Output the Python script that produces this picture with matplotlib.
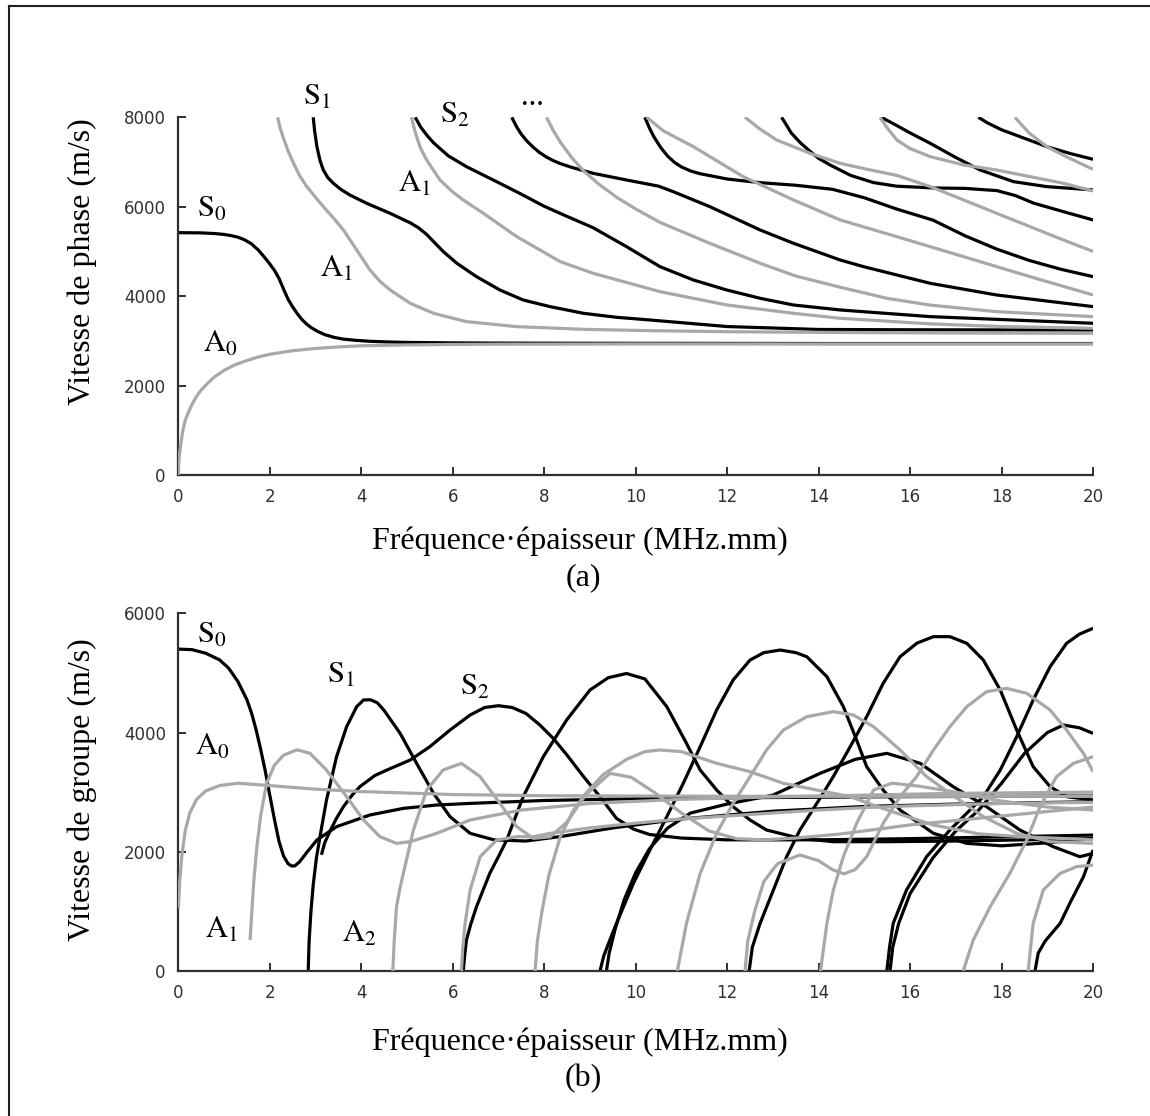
import matplotlib.pyplot as plt
from matplotlib.lines import Line2D

plt.rcParams['font.family'] = ['Liberation Serif', 'DejaVu Serif']
plt.rcParams['mathtext.fontset'] = 'stix'

BLACK = '#000000'
GREY = '#a8a8a8'

# ---- (a) vitesse de phase : f (MHz.mm), v (m/s)
ph_S0_f = [0, 0.5, 0.8, 1.0, 1.15, 1.3, 1.45, 1.6, 1.75, 1.9, 2.0, 2.1, 2.2, 2.3, 2.4, 2.5, 2.6, 2.7, 2.8, 2.9,
           3.05, 3.2, 3.4, 3.6, 3.9, 4.2, 4.6, 5, 6, 7, 10, 15, 20]
ph_S0_v = [5420, 5415, 5400, 5380, 5355, 5320, 5260, 5170, 5030, 4850, 4720, 4580, 4400, 4160, 3930, 3760, 3610,
           3480, 3380, 3300, 3210, 3140, 3080, 3040, 3010, 2990, 2975, 2965, 2955, 2950, 2945, 2940, 2940]
ph_S1_f = [2.95, 2.98, 3.03, 3.1, 3.17, 3.27, 3.39, 3.55, 3.75, 4.12, 4.63, 5.07, 5.25, 5.43, 5.6, 5.8, 6.09,
           6.52, 7.03, 7.54, 8.13, 8.86, 9.58, 10.31, 12, 14, 16, 18, 20]
ph_S1_v = [8000, 7700, 7344, 7030, 6822, 6650, 6524, 6390, 6263, 6076, 5853, 5640, 5530, 5380, 5200, 4990, 4735,
           4436, 4138, 3914, 3765, 3616, 3527, 3467, 3320, 3255, 3248, 3245, 3243]
ph_S2_f = [5.18, 5.3, 5.45, 5.58, 5.9, 6.30, 7.03, 7.5, 7.98, 8.35, 9.07, 9.80, 10.53, 11.26, 11.99, 12.72, 13.45,
           14.47, 16.44, 20]
ph_S2_v = [8000, 7780, 7580, 7430, 7140, 6896, 6524, 6280, 6020, 5850, 5530, 5107, 4660, 4362, 4138, 3952, 3802,
           3691, 3542, 3393]
ph_S3_f = [7.29, 7.4, 7.5, 7.62, 7.76, 7.9, 8.05, 8.2, 8.35, 8.6, 9.07, 9.80, 10.5, 10.82, 11.62, 12.72, 13.45,
           14.47, 14.98, 16.44, 17.89, 20]
ph_S3_v = [8000, 7780, 7620, 7470, 7330, 7210, 7110, 7030, 6965, 6880, 6747, 6598, 6460, 6337, 6002, 5480, 5182,
           4809, 4660, 4287, 4026, 3766]
ph_S4_f = [10.20, 10.3, 10.4, 10.55, 10.7, 10.85, 11.0, 11.2, 11.4, 12.0, 12.7, 13.5, 14.3, 15.0, 15.7, 16.5,
           17.2, 17.9, 18.6, 19.3, 20]
ph_S4_v = [8000, 7760, 7560, 7320, 7130, 6990, 6890, 6800, 6740, 6620, 6540, 6480, 6390, 6200, 5950, 5700,
           5350, 5050, 4800, 4600, 4436]
ph_S5_f = [13.19, 13.3, 13.4, 13.6, 13.8, 14.0, 14.25, 14.7, 15.2, 15.7, 16.5, 17.2, 17.9, 18.3, 18.7, 19.35, 20]
ph_S5_v = [8000, 7820, 7650, 7430, 7250, 7080, 6934, 6700, 6540, 6460, 6420, 6410, 6360, 6250, 6080, 5890, 5704]
ph_S6_f = [15.37, 15.7, 16.0, 16.44, 17.0, 17.53, 18.26, 18.99, 20]
ph_S6_v = [8000, 7820, 7650, 7418, 7100, 6822, 6561, 6449, 6375]
ph_S7_f = [17.49, 17.7, 18.0, 18.5, 19.0, 19.5, 20]
ph_S7_v = [8000, 7870, 7720, 7530, 7340, 7190, 7061]

ph_A0_f = [0, 0.01, 0.02, 0.04, 0.06, 0.1, 0.15, 0.2, 0.3, 0.4, 0.5, 0.65, 0.8, 1.0, 1.25, 1.5, 1.75, 2, 2.5,
           3, 3.5, 4, 5, 6, 7, 10, 15, 20]
ph_A0_v = [0, 280, 400, 580, 720, 1000, 1220, 1350, 1580, 1760, 1900, 2060, 2200, 2340, 2470, 2560, 2640, 2700,
           2780, 2830, 2865, 2890, 2910, 2920, 2925, 2930, 2930, 2930]
ph_A1_f = [2.17, 2.23, 2.30, 2.4, 2.52, 2.65, 2.81, 3.0, 3.17, 3.4, 3.61, 3.90, 4.19, 4.4, 4.63, 5.07, 5.58,
           6.30, 7.40, 8.86, 10.31, 12, 14, 16, 18, 20]
ph_A1_v = [8000, 7750, 7530, 7250, 6971, 6700, 6449, 6210, 6002, 5740, 5480, 5033, 4585, 4340, 4138, 3840, 3616,
           3430, 3318, 3258, 3228, 3205, 3190, 3180, 3172, 3169]
ph_A2_f = [5.10, 5.15, 5.21, 5.3, 5.43, 5.72, 6.0, 6.23, 6.67, 7.40, 8.35, 9.07, 10.53, 11.99, 13.45, 14.47,
           16.44, 18, 20]
ph_A2_v = [8000, 7780, 7567, 7300, 7046, 6598, 6330, 6151, 5853, 5330, 4772, 4511, 4101, 3803, 3616, 3505,
           3380, 3320, 3281]
ph_A3_f = [8.05, 8.2, 8.35, 8.6, 8.86, 9.2, 9.6, 10.0, 10.53, 11.62, 12.72, 13.5, 14.47, 15.5, 16.44, 17.89, 20]
ph_A3_v = [8000, 7700, 7450, 7100, 6800, 6500, 6200, 5950, 5650, 5182, 4735, 4450, 4200, 3950, 3800, 3653, 3542]
ph_A4_f = [10.24, 10.6, 11.26, 12.35, 13.45, 14.47, 15.71, 17.17, 18.62, 20]
ph_A4_v = [8000, 7700, 7344, 6673, 6151, 5704, 5330, 4883, 4436, 4026]
ph_A5_f = [12.39, 12.7, 13.08, 13.81, 14.47, 15.0, 15.71, 16.44, 17.17, 17.89, 18.62, 19.35, 20]
ph_A5_v = [8000, 7750, 7493, 7195, 6971, 6850, 6700, 6450, 6151, 5853, 5555, 5256, 5000]
ph_A6_f = [15.34, 15.5, 15.71, 16.0, 16.44, 17.17, 17.89, 18.62, 19.35, 20]
ph_A6_v = [8000, 7760, 7493, 7300, 7120, 6934, 6822, 6673, 6524, 6352]
ph_A7_f = [18.29, 18.6, 18.99, 19.35, 19.7, 20]
ph_A7_v = [8000, 7650, 7344, 7150, 6980, 6837]

# ---- (b) vitesse de groupe
gr_S0_f = [0, 0.3, 0.6, 0.9, 1.1, 1.3, 1.5, 1.6, 1.7, 1.8, 1.9, 2.0, 2.1, 2.2, 2.3, 2.4, 2.48, 2.55, 2.65,
           2.8, 3.03, 3.46, 4.19, 4.92, 5.65, 6.4, 8, 10, 13, 16, 20]
gr_S0_v = [5400, 5390, 5330, 5220, 5080, 4860, 4550, 4330, 4050, 3720, 3360, 2950, 2550, 2180, 1930, 1800, 1760,
           1765, 1830, 1980, 2197, 2421, 2617, 2728, 2784, 2812, 2860, 2890, 2910, 2925, 2935]
gr_S1_f = [2.84, 2.86, 2.9, 2.95, 3.02, 3.12, 3.24, 3.46, 3.68, 3.9, 4.05, 4.2, 4.35, 4.5, 4.85, 5.21, 5.58,
           5.94, 6.38, 6.9, 7.6, 8.4, 9.5, 11, 13, 15, 17, 20]
gr_S1_v = [0, 500, 1000, 1450, 1900, 2350, 2868, 3595, 4098, 4434, 4546, 4550, 4500, 4370, 3986, 3483, 2980,
           2589, 2309, 2200, 2180, 2260, 2400, 2550, 2680, 2760, 2800, 2840]
gr_S2_f = [3.13, 3.2, 3.32, 3.45, 3.61, 3.8, 3.97, 4.3, 4.56, 5.07, 5.5, 5.94, 6.38, 6.7, 7.0, 7.3, 7.6, 7.9,
           8.2, 8.5, 8.86, 9.22, 9.58, 9.95, 10.3, 11, 12, 14, 16, 18, 20]
gr_S2_v = [1950, 2150, 2350, 2550, 2756, 2950, 3092, 3280, 3371, 3539, 3763, 4042, 4294, 4420, 4450, 4420, 4320,
           4130, 3900, 3620, 3260, 2924, 2560, 2380, 2290, 2230, 2200, 2200, 2220, 2250, 2280]
gr_S3_f = [6.23, 6.26, 6.3, 6.4, 6.52, 6.66, 6.81, 7.0, 7.18, 7.54, 7.98, 8.49, 9.0, 9.4, 9.8, 10.2, 10.68,
           11.11, 11.41, 11.77, 12.13, 12.5, 12.86, 13.59, 14.32, 15.5, 17, 18.5, 20]
gr_S3_v = [0, 250, 520, 800, 1079, 1350, 1638, 1920, 2197, 2924, 3595, 4210, 4713, 4920, 4990, 4900, 4434,
           3819, 3371, 3036, 2756, 2533, 2365, 2225, 2169, 2169, 2180, 2200, 2220]
gr_S4_f = [9.22, 9.3, 9.45, 9.58, 9.95, 10.31, 10.68, 11.04, 11.41, 11.77, 12.13, 12.5, 12.8, 13.16, 13.5,
           13.74, 14.18, 14.54, 14.83, 15.05, 15.41, 15.78, 16.51, 17.24, 18, 19, 20]
gr_S4_v = [0, 250, 550, 800, 1470, 2030, 2589, 3148, 3763, 4378, 4881, 5216, 5340, 5384, 5340, 5272, 4937,
           4434, 3874, 3427, 3036, 2700, 2309, 2141, 2100, 2150, 2220]
gr_S5_f = [9.36, 9.42, 9.55, 9.75, 10.0, 10.3, 10.7, 11.2, 12, 13, 14.03, 14.8, 15.49, 16.22, 16.94, 17.67,
           18.4, 19.13, 19.71, 20]
gr_S5_v = [0, 300, 700, 1200, 1650, 2050, 2400, 2650, 2800, 2950, 3315, 3550, 3651, 3483, 3092, 2756, 2365,
           2085, 1917, 1973]
gr_S6_f = [12.48, 12.55, 12.72, 13.01, 13.3, 13.59, 13.96, 14.32, 14.69, 15.05, 15.41, 15.78, 16.15, 16.51,
           16.87, 17.24, 17.6, 17.97, 18.33, 18.69, 19.06, 19.42, 20]
gr_S6_v = [0, 400, 800, 1358, 1918, 2365, 2812, 3260, 3763, 4266, 4825, 5272, 5500, 5608, 5608, 5496, 5216,
           4713, 4042, 3427, 3092, 2924, 2868]
gr_S7_f = [15.49, 15.55, 15.63, 15.92, 16.36, 16.87, 17.6, 17.97, 18.33, 18.69, 19.06, 19.42, 19.7, 20]
gr_S7_v = [0, 400, 800, 1358, 1918, 2365, 2924, 3371, 3931, 4546, 5105, 5496, 5650, 5748]
gr_S8_f = [15.56, 15.62, 15.75, 16.0, 16.5, 17.0, 17.5, 18.0, 18.5, 19.0, 19.35, 19.7, 20]
gr_S8_v = [0, 400, 800, 1300, 1900, 2350, 2700, 3150, 3650, 4000, 4126, 4080, 3986]
gr_S9_f = [18.73, 18.8, 18.95, 19.28, 19.5, 19.79, 20]
gr_S9_v = [0, 300, 500, 800, 1150, 1582, 2030]

gr_A0_f = [0, 0.03, 0.08, 0.15, 0.25, 0.4, 0.6, 0.9, 1.3, 2, 3, 4, 6, 8, 10, 13, 16, 20]
gr_A0_v = [1050, 1500, 1950, 2350, 2650, 2880, 3020, 3110, 3150, 3110, 3050, 3010, 2960, 2940, 2935, 2930,
           2930, 2930]
gr_A1_f = [1.57, 1.6, 1.65, 1.72, 1.8, 1.93, 2.1, 2.3, 2.6, 2.88, 3.24, 3.68, 4.05, 4.41, 4.77, 5.07, 5.65,
           6.38, 7.5, 9, 11, 13, 15, 17, 20]
gr_A1_v = [520, 900, 1500, 2100, 2600, 3148, 3450, 3620, 3710, 3651, 3371, 2924, 2533, 2253, 2141, 2169, 2309,
           2533, 2700, 2810, 2880, 2920, 2950, 2980, 3000]
gr_A2_f = [4.69, 4.72, 4.77, 4.85, 4.92, 5.14, 5.43, 5.79, 6.19, 6.6, 7.03, 7.4, 7.76, 8.13, 8.5, 8.9, 9.44,
           9.9, 10.4, 11.0, 11.6, 12.2, 12.8, 13.5, 14.5, 16, 18, 20]
gr_A2_v = [0, 500, 1079, 1400, 1638, 2365, 3036, 3371, 3483, 3260, 2812, 2421, 2225, 2250, 2500, 2950, 3315,
           3250, 3000, 2650, 2350, 2220, 2200, 2230, 2300, 2450, 2600, 2750]
gr_A3_f = [6.19, 6.22, 6.27, 6.38, 6.6, 6.96, 7.4, 7.76, 8.13, 9, 10, 11, 12, 13, 14, 15, 16, 17, 18, 19, 20]
gr_A3_v = [0, 400, 800, 1358, 1918, 2197, 2253, 2253, 2309, 2400, 2480, 2550, 2600, 2650, 2700, 2740, 2770,
           2790, 2810, 2820, 2830]
gr_A4_f = [7.80, 7.85, 7.95, 8.1, 8.35, 8.64, 8.93, 9.3, 9.8, 10.2, 10.53, 11.0, 11.77, 12.5, 13.23, 13.96,
           14.69, 15.5, 16.5, 17.5, 18.5, 20]
gr_A4_v = [0, 500, 1000, 1600, 2250, 2700, 3000, 3300, 3550, 3680, 3707, 3680, 3483, 3343, 3148, 3036, 2924,
           2700, 2450, 2300, 2250, 2200]
gr_A5_f = [10.91, 11.11, 11.41, 11.77, 12.13, 12.5, 12.86, 13.23, 13.74, 14.32, 14.76, 15.2, 15.78, 16.36,
           16.87, 17.6, 18.33, 19.06, 20]
gr_A5_v = [0, 800, 1638, 2309, 2812, 3260, 3707, 4042, 4266, 4350, 4294, 4098, 3707, 3260, 2980, 2589, 2309,
           2169, 2141]
gr_A6_f = [12.39, 12.45, 12.6, 12.8, 13.1, 13.59, 14.0, 14.3, 14.55, 14.8, 15.05, 15.41, 15.78, 16.14, 16.51,
           16.87, 17.24, 17.67, 18.11, 18.55, 19.06, 19.42, 19.79, 20]
gr_A6_v = [0, 500, 1000, 1500, 1800, 1946, 1850, 1700, 1630, 1700, 1918, 2477, 2924, 3260, 3707, 4098, 4434,
           4685, 4741, 4657, 4378, 4042, 3650, 3343]
gr_A7_f = [14.04, 14.18, 14.32, 14.54, 14.83, 15.2, 15.6, 16.2, 17, 18, 19, 20]
gr_A7_v = [0, 800, 1358, 1918, 2477, 3036, 3150, 3100, 3000, 2850, 2750, 2700]
gr_A8_f = [17.16, 17.38, 17.75, 18.18, 18.55, 18.84, 19.2, 19.57, 20]
gr_A8_v = [0, 520, 1079, 1638, 2197, 2756, 3260, 3483, 3595]
gr_A9_f = [18.58, 18.69, 18.91, 19.28, 19.64, 20]
gr_A9_v = [0, 800, 1358, 1638, 1750, 1778]

phase_black = [(ph_S0_f, ph_S0_v), (ph_S1_f, ph_S1_v), (ph_S2_f, ph_S2_v), (ph_S3_f, ph_S3_v),
               (ph_S4_f, ph_S4_v), (ph_S5_f, ph_S5_v), (ph_S6_f, ph_S6_v), (ph_S7_f, ph_S7_v)]
phase_grey = [(ph_A0_f, ph_A0_v), (ph_A1_f, ph_A1_v), (ph_A2_f, ph_A2_v), (ph_A3_f, ph_A3_v),
              (ph_A4_f, ph_A4_v), (ph_A5_f, ph_A5_v), (ph_A6_f, ph_A6_v), (ph_A7_f, ph_A7_v)]
group_black = [(gr_S0_f, gr_S0_v), (gr_S1_f, gr_S1_v), (gr_S2_f, gr_S2_v), (gr_S3_f, gr_S3_v),
               (gr_S4_f, gr_S4_v), (gr_S5_f, gr_S5_v), (gr_S6_f, gr_S6_v), (gr_S7_f, gr_S7_v),
               (gr_S8_f, gr_S8_v), (gr_S9_f, gr_S9_v)]
group_grey = [(gr_A0_f, gr_A0_v), (gr_A1_f, gr_A1_v), (gr_A2_f, gr_A2_v), (gr_A3_f, gr_A3_v),
              (gr_A4_f, gr_A4_v), (gr_A5_f, gr_A5_v), (gr_A6_f, gr_A6_v), (gr_A7_f, gr_A7_v),
              (gr_A8_f, gr_A8_v), (gr_A9_f, gr_A9_v)]

x_ticks = [0, 2, 4, 6, 8, 10, 12, 14, 16, 18, 20]

# labels des modes : (texte, f, v)
phase_labels = [(r'$\mathrm{S}_1$', 2.73, 8275), (r'$\mathrm{S}_2$', 5.72, 7873), ('...', 7.5, 8275),
                (r'$\mathrm{S}_0$', 0.41, 5770), (r'$\mathrm{A}_1$', 4.80, 6330),
                (r'$\mathrm{A}_1$', 3.10, 4428), (r'$\mathrm{A}_0$', 0.54, 2751)]
group_labels = [(r'$\mathrm{S}_0$', 0.41, 5501), (r'$\mathrm{S}_1$', 3.25, 4830), (r'$\mathrm{S}_2$', 6.16, 4629),
                (r'$\mathrm{A}_0$', 0.37, 3623), (r'$\mathrm{A}_1$', 0.58, 553), (r'$\mathrm{A}_2$', 3.58, 486)]

W, H = 1150, 1116
fig = plt.figure(figsize=(W / 100, H / 100), dpi=100)
ax1 = fig.add_axes([178.3 / W, 1 - 475 / H, 914.8 / W, 357.7 / H])
ax2 = fig.add_axes([178.3 / W, 1 - 971 / H, 914.8 / W, 357.7 / H])


def style(ax, black_curves, grey_curves, ymax, yticks):
    for f, v in black_curves:
        ax.plot(f, v, color=BLACK, lw=2.3, solid_capstyle='butt', solid_joinstyle='round', zorder=2)
    for f, v in grey_curves:
        ax.plot(f, v, color=GREY, lw=2.3, solid_capstyle='butt', solid_joinstyle='round', zorder=3)
    ax.set_xlim(0, 20)
    ax.set_ylim(0, ymax)
    ax.set_xticks(x_ticks)
    ax.set_yticks(yticks)
    for s in ['top', 'right']:
        ax.spines[s].set_visible(False)
    for s in ['left', 'bottom']:
        ax.spines[s].set_color('#303030')
        ax.spines[s].set_linewidth(1.6)
    ax.tick_params(direction='in', length=6, width=1.4, color='#303030',
                   labelsize=12, labelcolor='#303030', pad=9)
    for lab in ax.get_xticklabels() + ax.get_yticklabels():
        lab.set_family('DejaVu Sans')


style(ax1, phase_black, phase_grey, 8000, [0, 2000, 4000, 6000, 8000])
style(ax2, group_black, group_grey, 6000, [0, 2000, 4000, 6000])

for txt, f, v in phase_labels:
    ax1.text(f, v, txt, fontsize=22, ha='left', va='baseline', clip_on=False)
for txt, f, v in group_labels:
    ax2.text(f, v, txt, fontsize=22, ha='left', va='baseline', clip_on=False)

fig.text(82 / W, 1 - 262 / H, 'Vitesse de phase (m/s)', rotation=90, fontsize=23,
         ha='center', va='center')
fig.text(82 / W, 1 - 790 / H, 'Vitesse de groupe (m/s)', rotation=90, fontsize=23,
         ha='center', va='center')
fig.text(580 / W, 1 - 541 / H, 'Fréquence·épaisseur (MHz.mm)', fontsize=23, ha='center', va='center')
fig.text(583 / W, 1 - 578 / H, '(a)', fontsize=23, ha='center', va='center')
fig.text(580 / W, 1 - 1042 / H, 'Fréquence·épaisseur (MHz.mm)', fontsize=23, ha='center', va='center')
fig.text(583 / W, 1 - 1079 / H, '(b)', fontsize=23, ha='center', va='center')

# cadre
fig.add_artist(Line2D([9 / W, 9 / W], [0, 1 - 6 / H], color='#202020', lw=1.5))
fig.add_artist(Line2D([9 / W, 1], [1 - 6 / H, 1 - 6 / H], color='#202020', lw=1.5))

fig.savefig('out.png', dpi=100)
